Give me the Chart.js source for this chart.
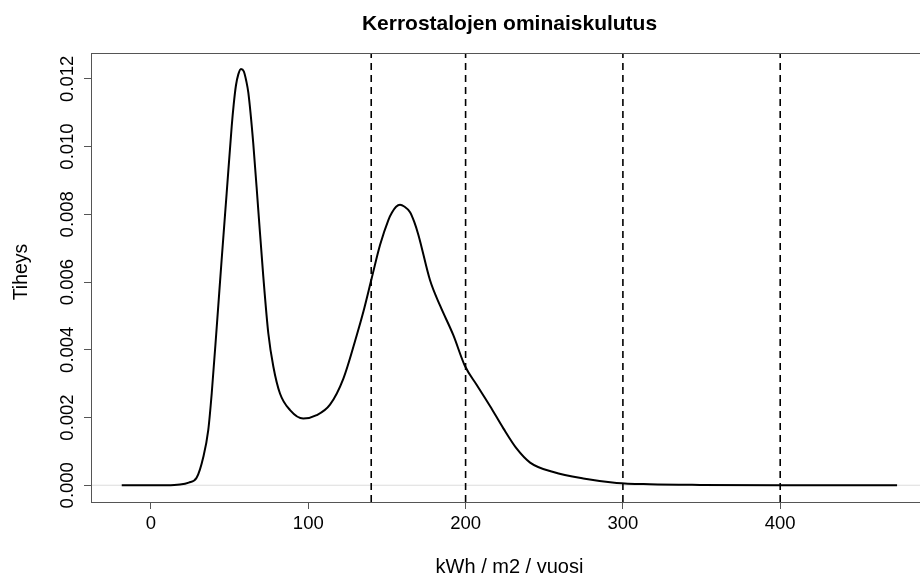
<!DOCTYPE html>
<html>
<head>
<meta charset="utf-8">
<script src="https://cdn.jsdelivr.net/npm/chart.js@4/dist/chart.umd.min.js"></script>
<style>
  html, body { margin: 0; padding: 0; background: #fff; overflow: hidden; }
  #wrap { width: 935px; height: 579px; }
</style>
</head>
<body>
<div id="wrap"><canvas id="densityChart"></canvas></div>
<script>
// density curve (kWh / m2 / vuosi -> tiheys)
const densityX = [-18.6, 0, 10, 18.4, 24, 29, 33.3, 36.4, 38.6, 41.8, 44.9, 48.1, 51.3, 52.6,
  54.0, 55.5, 57.2, 59.0, 60.5, 61.9, 65.0, 68.2, 71.4, 74.6, 77.8, 82.0, 88.4, 96.8, 105.3,
  113.8, 122.3, 130.8, 135.0, 140.3, 145.6, 150.9, 153.2, 155.8, 158.3, 161.0, 164.7, 167.3,
  170.0, 177.4, 183.8, 192.2, 199.6, 207.1, 215.5, 224.0, 232.5, 241.0, 255.8, 274.8, 296.0,
  317.2, 349, 400, 474.3];
const densityY = [0, 0, 0, 0.00002, 0.00008, 0.00022, 0.00084, 0.00163, 0.00271, 0.00468,
  0.00665, 0.00862, 0.01059, 0.01125, 0.01180, 0.01213, 0.01229, 0.01222, 0.01195, 0.01158,
  0.0101, 0.00813, 0.00616, 0.00448, 0.0035, 0.00271, 0.00222, 0.00197, 0.00207, 0.00238,
  0.00315, 0.00443, 0.00512, 0.00611, 0.00709, 0.00783, 0.00805, 0.00822, 0.00828, 0.00823,
  0.00806, 0.00778, 0.00739, 0.00605, 0.0053, 0.00443, 0.00352, 0.00296, 0.00234, 0.00168,
  0.00108, 0.00067, 0.00039, 0.0002, 0.00007, 0.00003, 0.00001, 0, 0];

// dashed reference lines
const cutoffs = [140, 200, 300, 400];

const xTicks = [0, 100, 200, 300, 400];
const yTicks = [0, 0.002, 0.004, 0.006, 0.008, 0.010, 0.012];

const X_MIN = -38.14;
const X_MAX = 493.96;
const Y_MIN = -0.000494;
const Y_MAX = 0.01276;

const titleText = "Kerrostalojen ominaiskulutus";
const xTitle = "kWh / m2 / vuosi";
const yTitle = "Tiheys";

const FONT = "'Liberation Sans', Arial, sans-serif";

const curvePoints = densityX.map((x, i) => ({ x, y: densityY[i] }));

const datasets = [
  {
    label: "density",
    data: curvePoints,
    borderColor: "#000",
    borderWidth: 2,
    pointRadius: 0,
    cubicInterpolationMode: "monotone",
    fill: false,
    order: 1
  },
  {
    label: "zero",
    data: [{ x: X_MIN, y: 0 }, { x: X_MAX, y: 0 }],
    borderColor: "#dcdcdc",
    borderWidth: 1.2,
    pointRadius: 0,
    order: 3
  }
];

cutoffs.forEach((c) => {
  datasets.push({
    label: "cut " + c,
    data: [{ x: c, y: Y_MIN }, { x: c, y: Y_MAX }],
    borderColor: "#000",
    borderWidth: 1.6,
    borderDash: [7, 5],
    pointRadius: 0,
    order: 2
  });
});

const rPlotPlugin = {
  id: "rPlot",
  afterDraw(chart) {
    const { ctx, chartArea } = chart;
    const yScale = chart.scales.y;
    ctx.save();

    // box round the plot region
    ctx.strokeStyle = "#555";
    ctx.lineWidth = 1;
    ctx.strokeRect(Math.round(chartArea.left) + 0.5, Math.round(chartArea.top) + 0.5,
      Math.round(chartArea.right - chartArea.left), Math.round(chartArea.bottom - chartArea.top));

    // main title
    ctx.fillStyle = "#000";
    ctx.font = "bold 21px " + FONT;
    ctx.textAlign = "center";
    ctx.textBaseline = "middle";
    ctx.fillText(titleText, (chartArea.left + chartArea.right) / 2, 24);

    // y tick labels, turned like R's las = 0
    ctx.font = "18.5px " + FONT;
    yTicks.forEach((v) => {
      const py = yScale.getPixelForValue(v);
      ctx.save();
      ctx.translate(68, py);
      ctx.rotate(-Math.PI / 2);
      ctx.fillText(v.toFixed(3), 0, 0);
      ctx.restore();
    });

    // y axis title
    ctx.font = "19.5px " + FONT;
    ctx.translate(22, 272);
    ctx.rotate(-Math.PI / 2);
    ctx.fillText(yTitle, 0, 0);
    ctx.restore();
  }
};

new Chart(document.getElementById("densityChart"), {
  type: "line",
  data: { datasets },
  options: {
    responsive: true,
    maintainAspectRatio: false,
    animation: false,
    layout: { padding: { top: 53, right: 7, left: 0, bottom: 0 } },
    plugins: {
      legend: { display: false },
      tooltip: { enabled: false }
    },
    scales: {
      x: {
        type: "linear",
        min: X_MIN,
        max: X_MAX,
        afterBuildTicks: (scale) => { scale.ticks = xTicks.map((value) => ({ value })); },
        afterFit: (scale) => { scale.height = 77; },
        ticks: {
          color: "#000",
          font: { family: FONT, size: 18.5 },
          padding: 4,
          maxRotation: 0,
          callback: (v) => String(v)
        },
        grid: { drawOnChartArea: false, tickLength: 7, tickColor: "#555", lineWidth: 1 },
        border: { display: false },
        title: {
          display: true,
          text: xTitle,
          color: "#000",
          font: { family: FONT, size: 20 },
          padding: { top: 0, bottom: 0 }
        }
      },
      y: {
        type: "linear",
        min: Y_MIN,
        max: Y_MAX,
        afterBuildTicks: (scale) => { scale.ticks = yTicks.map((value) => ({ value })); },
        afterFit: (scale) => { scale.width = 91; },
        ticks: { display: false },
        grid: { drawOnChartArea: false, tickLength: 7, tickColor: "#555", lineWidth: 1 },
        border: { display: false }
      }
    }
  },
  plugins: [rPlotPlugin]
});
</script>
</body>
</html>
